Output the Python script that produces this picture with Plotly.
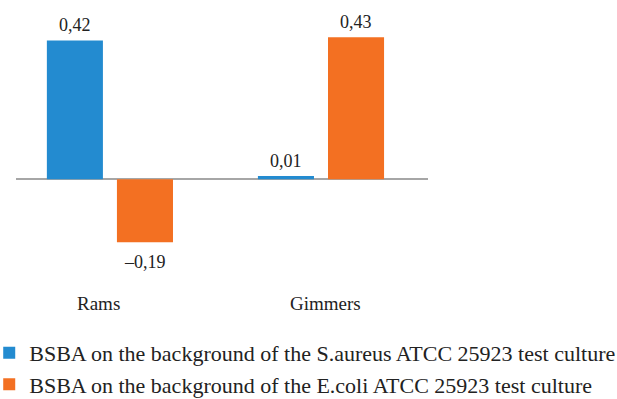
import plotly.graph_objects as go

categories = ["Rams", "Gimmers"]
series_names = [
    "BSBA on the background of the S.aureus ATCC 25923 test culture",
    "BSBA on the background of the E.coli ATCC 25923 test culture",
]
saureus = [0.42, 0.01]
ecoli = [-0.19, 0.43]
colors = ["#238BD0", "#F37022"]
FONT = "Liberation Serif, Times New Roman, serif"

def fmt(v):
    s = f"{v:.2f}".replace(".", ",")
    return s.replace("-", "\u2013")

x_pos = list(range(len(categories)))
fig = go.Figure()
offsets = [-0.166, 0.166]
for name, vals, col, off in zip(series_names, [saureus, ecoli], colors, offsets):
    fig.add_trace(go.Bar(
        x=x_pos, y=vals, name=name, marker=dict(color=col, line=dict(width=0)),
    ))
    for i, v in enumerate(vals):
        fig.add_annotation(x=i + off, y=v, xref="x", yref="y",
                           yshift=15 if v >= 0 else -20, text=fmt(v), showarrow=False,
                           font=dict(family=FONT, size=18, color="#222"))

cat_xshift = [-11, 5]
for i, c in enumerate(categories):
    fig.add_annotation(x=i, y=0, xref="x", yref="y", yshift=-124, xshift=cat_xshift[i], text=c,
                       showarrow=False, font=dict(family=FONT, size=19, color="#222"))

fig.update_layout(
    width=617, height=399,
    margin=dict(l=16, r=189, t=14, b=137, autoexpand=False),
    plot_bgcolor="white", paper_bgcolor="white",
    barmode="group", bargap=0.336, bargroupgap=0.2,
    showlegend=True,
    legend=dict(xref="paper", yref="paper", x=-0.065, y=-0.58, xanchor="left", yanchor="bottom",
                font=dict(family=FONT, size=22, color="#222"),
                tracegroupgap=0, itemwidth=30, bgcolor="rgba(0,0,0,0)"),
    xaxis=dict(range=[-0.445, 1.507], showticklabels=False, showgrid=False, zeroline=False, showline=False),
    yaxis=dict(range=[-0.25, 0.5], visible=True, showticklabels=False, showgrid=False,
               zeroline=True, zerolinecolor="#A6A6A6", zerolinewidth=1.5, showline=False),
)
fig.write_html("out.html")
